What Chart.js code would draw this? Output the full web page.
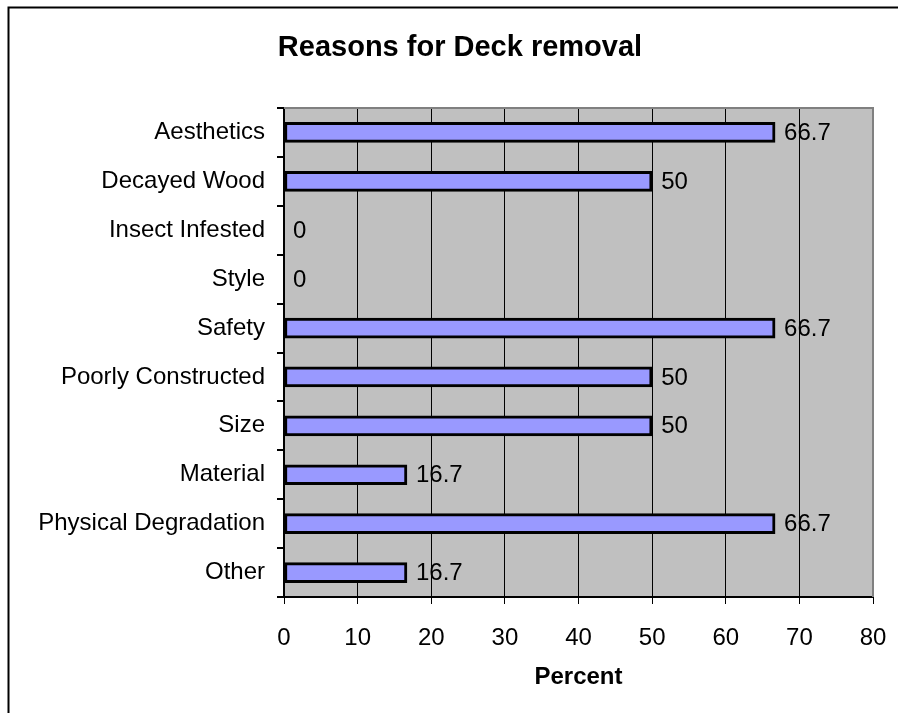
<!DOCTYPE html>
<html>
<head>
<meta charset="utf-8">
<title>Reasons for Deck removal</title>
<script src="https://cdn.jsdelivr.net/npm/chart.js@4/dist/chart.umd.min.js"></script>
<style>
	html, body { margin: 0; padding: 0; background: #ffffff; }
	#deckChart { display: block; }
</style>
</head>
<body>
<canvas id="deckChart" width="898" height="713"></canvas>
<script>
// Survey answers, top to bottom
const reasons = [
	"Aesthetics",
	"Decayed Wood",
	"Insect Infested",
	"Style",
	"Safety",
	"Poorly Constructed",
	"Size",
	"Material",
	"Physical Degradation",
	"Other",
];
const percents = [66.7, 50, 0, 0, 66.7, 50, 50, 16.7, 66.7, 16.7];
const percentTicks = [0, 10, 20, 30, 40, 50, 60, 70, 80];

const FONT = "'Liberation Sans', Arial, sans-serif";

// White page, outer frame and grey plot background
const frameAndBackground = {
	id: "frameAndBackground",
	beforeDraw: function (chart) {
		const ctx = chart.ctx;
		const area = chart.chartArea;
		ctx.save();
		ctx.fillStyle = "#ffffff";
		ctx.fillRect(0, 0, chart.width, chart.height);

		ctx.strokeStyle = "#000000";
		ctx.lineWidth = 2;
		ctx.beginPath();
		ctx.moveTo(8.5, chart.height);
		ctx.lineTo(8.5, 7.5);
		ctx.lineTo(chart.width, 7.5);
		ctx.stroke();

		ctx.fillStyle = "#c0c0c0";
		ctx.fillRect(area.left, area.top, area.right - area.left, area.bottom - area.top);

		// Title
		ctx.fillStyle = "#000000";
		ctx.font = "bold 29px " + FONT;
		ctx.textAlign = "center";
		ctx.textBaseline = "middle";
		ctx.fillText("Reasons for Deck removal", 460, 48);
		ctx.restore();
	},
	beforeDatasetsDraw: function (chart) {
		// Grey edge along top and right of the plot area
		const ctx = chart.ctx;
		const area = chart.chartArea;
		ctx.save();
		ctx.strokeStyle = "#808080";
		ctx.lineWidth = 2;
		ctx.beginPath();
		ctx.moveTo(area.left, area.top);
		ctx.lineTo(area.right, area.top);
		ctx.lineTo(area.right, area.bottom);
		ctx.stroke();
		ctx.restore();
	},
};

// Value text to the right of each bar
const valueLabels = {
	id: "valueLabels",
	afterDatasetsDraw: function (chart) {
		const ctx = chart.ctx;
		const meta = chart.getDatasetMeta(0);
		ctx.save();
		ctx.fillStyle = "#000000";
		ctx.font = "24px " + FONT;
		ctx.textAlign = "left";
		ctx.textBaseline = "middle";
		meta.data.forEach(function (bar, i) {
			ctx.fillText(String(percents[i]), bar.x + 9, bar.y + 1);
		});
		ctx.restore();
	},
};

const deckChart = new Chart(document.getElementById("deckChart").getContext("2d"), {
	type: "bar",
	data: {
		labels: reasons,
		datasets: [
			{
				data: percents,
				backgroundColor: "#9999ff",
				borderColor: "#000000",
				borderWidth: 3,
				borderSkipped: false,
				barThickness: 20,
			},
		],
	},
	options: {
		indexAxis: "y",
		responsive: false,
		animation: false,
		layout: {
			padding: { left: 0, top: 108, right: 25, bottom: 0 },
		},
		plugins: {
			legend: { display: false },
			tooltip: { enabled: false },
		},
		scales: {
			x: {
				min: 0,
				max: 80,
				afterBuildTicks: function (scale) {
					scale.ticks = percentTicks.map((v) => ({ value: v }));
				},
				afterFit: function (scale) {
					scale.height = 116;
					scale.paddingLeft = 0;
					scale.paddingRight = 0;
				},
				grid: {
					color: "#000000",
					lineWidth: 1,
					tickColor: "#000000",
					tickLength: 7,
				},
				border: { display: true, color: "#000000", width: 2 },
				ticks: {
					color: "#000000",
					font: { family: FONT, size: 24 },
					padding: 20,
					maxRotation: 0,
				},
				title: {
					display: true,
					text: "Percent",
					color: "#000000",
					font: { family: FONT, size: 24, weight: "bold" },
					padding: { top: 0, bottom: 21 },
				},
			},
			y: {
				afterFit: function (scale) {
					scale.width = 284;
					scale.paddingTop = 0;
					scale.paddingBottom = 0;
				},
				grid: {
					drawOnChartArea: false,
					offset: true,
					tickColor: "#000000",
					tickLength: 7,
					lineWidth: 2,
				},
				border: { display: true, color: "#000000", width: 2 },
				ticks: {
					color: "#000000",
					font: { family: FONT, size: 24 },
					padding: 12,
				},
			},
		},
	},
	plugins: [frameAndBackground, valueLabels],
});
</script>
</body>
</html>
